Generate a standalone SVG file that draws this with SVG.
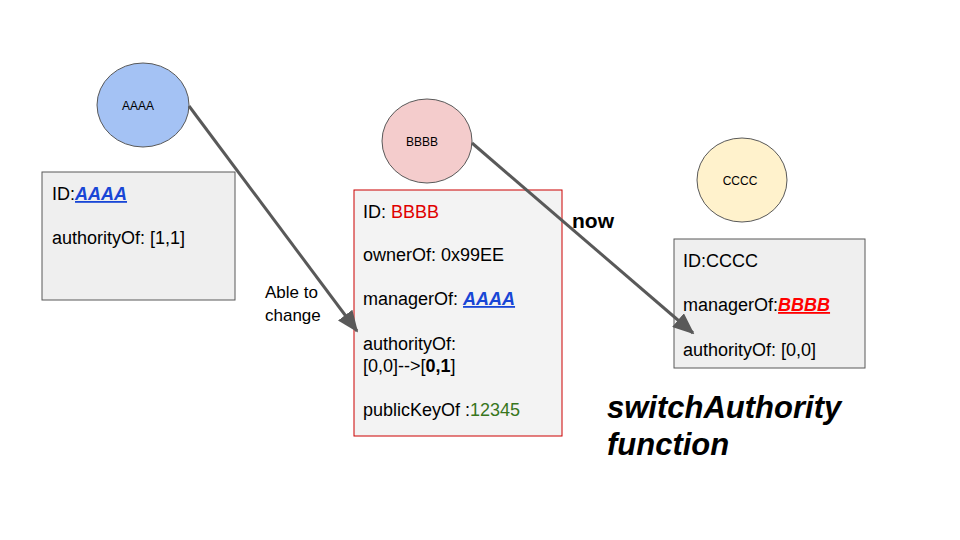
<svg xmlns="http://www.w3.org/2000/svg" width="960" height="540" viewBox="0 0 960 540">
<defs>
<style>
text{font-family:"Liberation Sans",Arial,sans-serif;fill:#000}
.t{font-size:18px}
.s{font-size:12px}
.box{fill:#efefef;stroke:#595959;stroke-width:1}
.ell{stroke:#595959;stroke-width:1}
.link{fill:#1846d6;font-weight:bold;font-style:italic;text-decoration:underline}
.conn{stroke:#595959;stroke-width:3;fill:none}
</style>
<marker id="ah" viewBox="0 0 12 10" refX="11" refY="5" markerWidth="7.2" markerHeight="6" orient="auto" markerUnits="strokeWidth">
<path d="M0,0 L12,5 L0,10 z" fill="#595959"/>
</marker>
</defs>
<rect width="960" height="540" fill="#fff"/>
<g id="nodeA">
<ellipse class="ell" cx="143" cy="105" rx="46" ry="42" fill="#a4c2f4"/>
<text class="s" x="138" y="110" text-anchor="middle">AAAA</text>
</g>
<g id="boxA">
<rect class="box" x="42" y="172" width="193" height="128"/>
<text class="t" x="52" y="200">ID:<tspan class="link">AAAA</tspan></text>
<text class="t" x="52" y="244">authorityOf: [1,1]</text>
</g>
<g id="nodeB">
<ellipse class="ell" cx="427" cy="141" rx="45" ry="42" fill="#f4cccc"/>
<text class="s" x="422" y="146" text-anchor="middle">BBBB</text>
</g>
<g id="boxB">
<rect x="354" y="190" width="208" height="246" fill="#f3f3f3" stroke="#cc0000" stroke-width="1"/>
<text class="t" x="363" y="218">ID: <tspan fill="#e00000">BBBB</tspan></text>
<text class="t" x="363" y="261">ownerOf: 0x99EE</text>
<text class="t" x="363" y="305">managerOf: <tspan class="link">AAAA</tspan></text>
<text class="t" x="363" y="350">authorityOf:</text>
<text class="t" x="363" y="372">[0,0]--&gt;[<tspan font-weight="bold">0,1</tspan>]</text>
<text class="t" x="363" y="416">publicKeyOf :<tspan fill="#38761d">12345</tspan></text>
</g>
<g id="nodeC">
<ellipse class="ell" cx="742" cy="180" rx="45" ry="42" fill="#fff2cc"/>
<text class="s" x="740" y="185" text-anchor="middle">CCCC</text>
</g>
<g id="boxC">
<rect class="box" x="674" y="239" width="191" height="129"/>
<text class="t" x="683" y="267">ID:CCCC</text>
<text class="t" x="683" y="311">managerOf:<tspan fill="#ff0000" font-weight="bold" font-style="italic" text-decoration="underline">BBBB</tspan></text>
<text class="t" x="683" y="356">authorityOf: [0,0]</text>
</g>
<g id="connectors">
<line class="conn" x1="189" y1="106" x2="357" y2="331" marker-end="url(#ah)"/>
<line class="conn" x1="472" y1="143" x2="693" y2="333" marker-end="url(#ah)"/>
</g>
<g id="labels">
<text x="265" y="298" font-size="17">Able to</text>
<text x="265" y="321" font-size="17">change</text>
<text x="572" y="228" font-size="21" font-weight="bold">now</text>
<text x="607" y="418" font-size="31" font-weight="bold" font-style="italic">switchAuthority</text>
<text x="607" y="455" font-size="31" font-weight="bold" font-style="italic">function</text>
</g>
</svg>
